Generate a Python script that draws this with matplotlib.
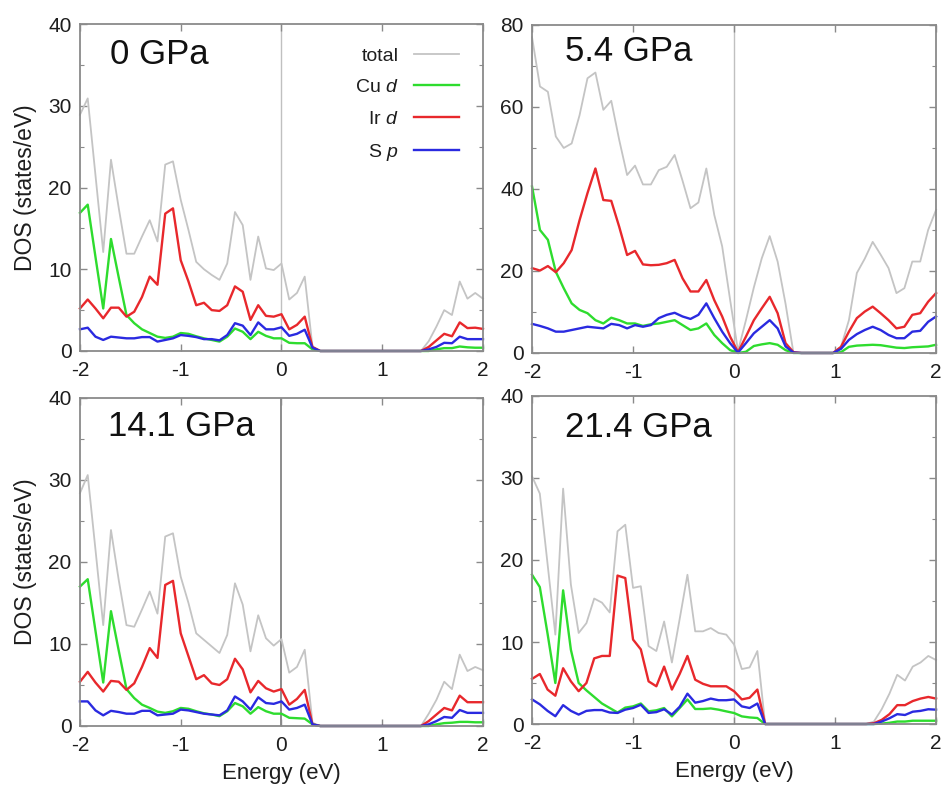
import numpy as np
import matplotlib
matplotlib.use("Agg")
import matplotlib.pyplot as plt
from matplotlib.ticker import MultipleLocator

plt.rcParams["font.family"] = ["Liberation Sans", "DejaVu Sans"]
plt.rcParams["mathtext.fontset"] = "custom"
plt.rcParams["mathtext.it"] = "Liberation Sans:italic"
plt.rcParams["mathtext.rm"] = "Liberation Sans"

# Energy sampling grids (eV)
energy_a = np.linspace(-2, 2, 53)
energy_b = np.linspace(-2, 2, 52)

Z13 = [0.0] * 13
Z5 = [0.0] * 5

# ---- 0 GPa ----
p0_total = [28.9, 30.9, 21.5, 12.1, 23.4, 17.5, 11.9, 11.9, 14.0, 16.0, 13.4, 22.8, 23.2, 18.5,
            14.8, 10.9, 10.0, 9.3, 8.7, 10.7, 17.0, 15.4, 8.7, 14.0, 10.1, 9.9, 10.7, 6.3, 7.1,
            9.1, 0.5] + Z13 + [0.0, 1.2, 3.0, 5.0, 4.4, 8.5, 6.4, 7.1, 6.4]
p0_cu = [16.9, 17.9, 11.5, 5.2, 13.7, 9.0, 4.4, 3.4, 2.65, 2.2, 1.75, 1.6, 1.75, 2.2, 2.1, 1.8,
         1.55, 1.35, 1.15, 1.75, 2.75, 2.35, 1.45, 2.35, 1.85, 1.55, 1.55, 1.0, 0.95, 0.95,
         0.2] + Z13 + [0.0, 0.0, 0.2, 0.35, 0.35, 0.55, 0.45, 0.4, 0.4]
p0_ir = [5.2, 6.3, 5.2, 4.0, 5.3, 5.3, 4.2, 4.8, 6.6, 9.1, 8.1, 16.8, 17.45, 11.1, 8.5, 5.6,
         5.9, 5.0, 4.9, 5.6, 7.9, 7.25, 3.8, 5.6, 4.3, 4.2, 4.5, 2.65, 3.2, 4.2,
         0.5] + Z13 + [0.0, 0.5, 1.3, 2.1, 1.8, 3.5, 2.8, 2.85, 2.7]
p0_s = [2.65, 2.85, 1.75, 1.35, 1.75, 1.65, 1.55, 1.55, 1.7, 1.7, 1.15, 1.35, 1.55, 1.95, 1.85,
        1.7, 1.45, 1.45, 1.3, 1.95, 3.4, 3.1, 1.95, 3.5, 2.65, 2.65, 2.9, 1.85, 2.1, 2.6,
        0.4] + Z13 + [0.0, 0.2, 0.5, 1.0, 0.95, 1.75, 1.45, 1.45, 1.45]

# ---- 5.4 GPa ----
p54_total = [77.0, 65.0, 63.7, 52.8, 50.0, 51.1, 58.0, 67.0, 68.4, 59.3, 61.5, 52.0, 43.4, 45.7,
             41.1, 41.1, 44.6, 45.4, 48.3, 42.0, 35.3, 36.7, 45.0, 33.7, 26.0, 13.0, 0.5, 8.0,
             16.0, 23.1, 28.5, 22.3, 12.0, 0.0] + Z5 + [1.5, 8.0, 19.5, 23.0, 27.1, 24.0, 20.7,
                                                          14.6, 15.8, 22.3, 22.3, 30.0, 34.9]
p54_cu = [40.6, 30.0, 27.6, 19.8, 15.8, 12.1, 10.5, 9.7, 8.0, 7.2, 8.6, 8.0, 7.2, 7.2, 6.6, 7.0,
          7.2, 7.6, 8.0, 6.8, 5.6, 6.0, 7.2, 4.4, 2.4, 0.7, 0.0, 0.3, 1.7, 2.1, 2.4, 2.0, 0.7,
          0.0] + Z5 + [0.2, 1.5, 1.8, 1.9, 2.0, 1.9, 1.6, 1.3, 1.2, 1.4, 1.5, 1.6, 2.0]
p54_ir = [20.7, 20.1, 21.2, 19.7, 21.9, 25.1, 32.4, 39.0, 45.0, 37.3, 37.1, 30.8, 23.9, 24.9,
          21.6, 21.4, 21.5, 21.9, 22.7, 18.2, 15.0, 15.0, 17.8, 12.9, 8.9, 4.0, 0.2, 4.0, 8.0,
          10.9, 13.7, 9.7, 2.4, 0.2] + Z5 + [1.5, 5.2, 8.5, 10.1, 11.3, 9.7, 8.0, 6.0, 6.4,
                                              9.3, 9.7, 12.5, 14.6]
p54_s = [7.1, 6.6, 6.0, 5.2, 5.2, 5.6, 6.0, 6.4, 6.2, 6.0, 7.1, 6.8, 6.0, 6.8, 6.4, 6.8, 8.5,
         9.3, 9.8, 8.9, 8.3, 9.3, 12.1, 8.5, 5.2, 2.4, 0.1, 2.4, 4.8, 6.4, 8.0, 6.0, 1.6,
         0.1] + Z5 + [1.0, 3.2, 4.6, 5.6, 6.4, 5.6, 4.4, 3.6, 3.6, 5.2, 5.4, 7.6, 8.9]

# ---- 14.1 GPa ----
p14_total = [28.4, 30.6, 21.5, 12.3, 23.9, 17.8, 12.3, 12.1, 14.2, 16.4, 13.7, 23.1, 23.5, 18.2,
             15.0, 11.3, 10.5, 9.7, 8.9, 11.1, 17.4, 14.8, 9.1, 13.5, 10.7, 9.8, 10.6, 6.5, 7.2,
             9.3, 0.4] + Z13 + [0.0, 1.5, 3.2, 5.4, 4.5, 8.7, 6.7, 7.2, 6.8]
p14_cu = [17.0, 17.9, 11.6, 5.3, 14.0, 9.2, 4.5, 3.4, 2.6, 2.2, 1.75, 1.6, 1.8, 2.2, 2.1, 1.8,
          1.55, 1.4, 1.2, 1.8, 2.8, 2.4, 1.5, 2.3, 1.8, 1.5, 1.5, 1.0, 0.95, 0.9,
          0.2] + Z13 + [0.0, 0.0, 0.2, 0.35, 0.4, 0.5, 0.5, 0.45, 0.45]
p14_ir = [5.4, 6.6, 5.3, 4.2, 5.5, 5.4, 4.4, 5.2, 7.2, 9.5, 8.3, 17.2, 17.7, 11.3, 8.5, 5.7,
          6.2, 5.2, 5.0, 5.7, 8.2, 6.9, 4.1, 5.5, 4.6, 4.2, 4.5, 2.6, 3.3, 4.4,
          0.2] + Z13 + [0.0, 0.6, 1.4, 2.2, 1.9, 3.7, 2.9, 2.9, 2.9]
p14_s = [3.0, 3.0, 1.9, 1.3, 1.85, 1.7, 1.5, 1.5, 1.85, 1.85, 1.3, 1.4, 1.5, 2.0, 1.9, 1.7,
         1.5, 1.4, 1.3, 1.9, 3.6, 3.0, 2.0, 3.5, 2.8, 2.7, 3.0, 2.0, 2.2, 2.6,
         0.2] + Z13 + [0.0, 0.2, 0.6, 1.1, 1.0, 1.95, 1.6, 1.6, 1.6]

# ---- 21.4 GPa ----
p21_total = [30.2, 28.1, 19.5, 10.9, 28.7, 17.0, 11.1, 12.3, 15.3, 14.8, 13.6, 23.5, 24.3, 16.6,
             16.8, 9.5, 8.9, 12.5, 7.5, 12.8, 18.2, 11.3, 11.3, 11.7, 11.1, 10.9, 9.7, 6.7, 6.9,
             8.9, 0.0] + Z13 + [0.3, 1.8, 3.7, 6.0, 5.3, 7.0, 7.5, 8.3, 7.8]
p21_cu = [18.2, 16.7, 11.0, 5.0, 16.3, 9.05, 5.0, 4.1, 3.3, 2.5, 1.95, 1.4, 2.0, 2.15, 2.5,
          1.55, 1.67, 1.95, 0.93, 1.95, 3.0, 1.83, 1.83, 1.9, 1.75, 1.54, 1.34, 0.93, 0.8,
          0.73, 0.0] + Z13 + [0.0, 0.05, 0.15, 0.3, 0.3, 0.4, 0.4, 0.4, 0.4]
p21_ir = [5.5, 6.1, 4.2, 3.45, 6.8, 5.2, 4.0, 5.0, 8.0, 8.3, 8.3, 18.1, 17.8, 10.3, 9.1, 5.2,
          4.6, 7.0, 4.2, 6.1, 8.3, 5.4, 4.9, 4.6, 4.6, 4.6, 4.0, 3.0, 3.2, 4.2,
          0.0] + Z13 + [0.1, 0.5, 1.2, 2.3, 2.3, 2.8, 3.1, 3.3, 3.1]
p21_s = [3.0, 2.4, 1.6, 0.95, 2.3, 1.6, 1.15, 1.6, 1.7, 1.7, 1.4, 1.35, 1.75, 1.95, 2.35,
         1.35, 1.45, 1.8, 1.15, 2.1, 3.7, 2.6, 2.8, 3.1, 2.9, 2.9, 3.0, 2.15, 1.95, 2.5,
         0.0] + Z13 + [0.0, 0.3, 0.7, 1.2, 1.1, 1.5, 1.6, 1.8, 1.75]

series_labels = ["total", "Cu $d$", "Ir $d$", "S $p$"]
series_colors = ["#c4c4c4", "#2edc2e", "#e8282c", "#2a2ae0"]
series_widths = [1.3, 1.7, 1.7, 1.7]

panels = [
    dict(title="0 GPa", energy=energy_a, data=[p0_total, p0_cu, p0_ir, p0_s],
         rect=[0.0849, 0.5585, 0.4278, 0.4113], ymax=40, major=10, minor=5,
         title_xy=(0.074, 0.908), zero_color="#c0c0c0", zero_lw=1.0),
    dict(title="5.4 GPa", energy=energy_b, data=[p54_total, p54_cu, p54_ir, p54_s],
         rect=[0.5648, 0.5560, 0.4289, 0.4126], ymax=80, major=20, minor=10,
         title_xy=(0.082, 0.918), zero_color="#c0c0c0", zero_lw=1.0),
    dict(title="14.1 GPa", energy=energy_a, data=[p14_total, p14_cu, p14_ir, p14_s],
         rect=[0.0849, 0.0868, 0.4278, 0.4126], ymax=40, major=10, minor=5,
         title_xy=(0.070, 0.912), zero_color="#8c8c8c", zero_lw=1.4),
    dict(title="21.4 GPa", energy=energy_a, data=[p21_total, p21_cu, p21_ir, p21_s],
         rect=[0.5648, 0.0893, 0.4289, 0.4126], ymax=40, major=10, minor=5,
         title_xy=(0.082, 0.904), zero_color="#c0c0c0", zero_lw=1.0),
]

fig = plt.figure(figsize=(9.42, 7.95), dpi=100)
spine_color = "#8a8a8a"

for i, p in enumerate(panels):
    ax = fig.add_axes(p["rect"])
    ax.axvline(0, color=p["zero_color"], lw=p["zero_lw"], zorder=1)
    handles = []
    for vals, lab, col, lw in zip(p["data"], series_labels, series_colors, series_widths):
        (h,) = ax.plot(p["energy"], vals, color=col, lw=lw, label=lab, clip_on=False, zorder=2)
        handles.append(h)
    ax.set_xlim(-2, 2)
    ax.set_ylim(0, p["ymax"])
    ax.xaxis.set_major_locator(MultipleLocator(1))
    ax.yaxis.set_major_locator(MultipleLocator(p["major"]))
    ax.yaxis.set_minor_locator(MultipleLocator(p["minor"]))
    ax.tick_params(which="both", direction="in", top=True, right=True, color=spine_color,
                   labelcolor="#1e1e1e", labelsize=15)
    ax.tick_params(which="major", length=5, width=1.0)
    ax.tick_params(which="minor", length=3, width=0.8)
    ax.tick_params(axis="x", pad=7)
    ax.tick_params(axis="y", pad=6)
    for sp in ax.spines.values():
        sp.set_color(spine_color)
        sp.set_linewidth(1.3)
    ax.set_xticks([-2, -1, 0, 1, 2])
    ax.set_xticklabels(["-2", "-1", "0", "1", "2"])
    ax.text(p["title_xy"][0], p["title_xy"][1], p["title"], transform=ax.transAxes,
            fontsize=25, ha="left", va="center", color="#111111")
    if i in (0, 2):
        ax.set_ylabel("DOS (states/eV)", fontsize=16.5, color="#1e1e1e", labelpad=8)
    if i in (2, 3):
        ax.set_xlabel("Energy (eV)", fontsize=16, color="#1e1e1e", labelpad=6)
    if i == 0:
        ax.legend(handles=handles, loc="upper right", bbox_to_anchor=(0.94, 0.93),
                  frameon=False, markerfirst=False, handlelength=2.3, handletextpad=0.8,
                  labelspacing=0.72, fontsize=14, borderaxespad=0, borderpad=0,
                  labelcolor="#1e1e1e")

fig.savefig("out.png", dpi=100)
